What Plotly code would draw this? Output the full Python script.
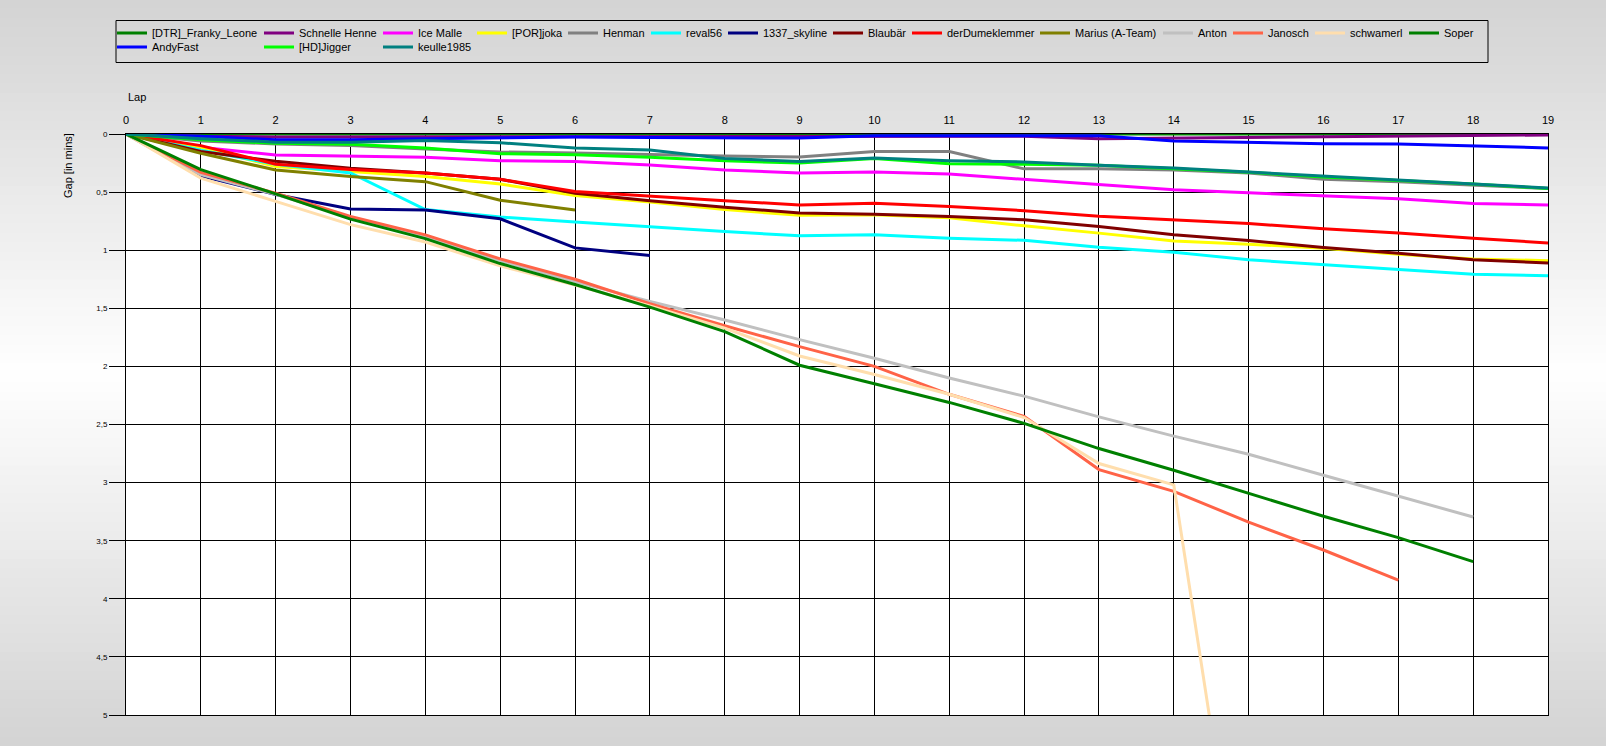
import plotly.graph_objects as go

# ---------------- data ----------------
laps = list(range(20))

franky_leone = [0, 0, 0, 0, 0, 0, 0, 0, 0, 0, 0, 0, 0, 0, 0, 0, 0, 0, 0, 0]
schnelle_henne = [0, 0.02, 0.025, 0.025, 0.025, 0.025, 0.022, 0.022, 0.02, 0.02,
                  0.02, 0.02, 0.02, 0.04, 0.035, 0.03, 0.025, 0.02, 0.015, 0.008]
ice_malle = [0, 0.115, 0.18, 0.19, 0.2, 0.23, 0.236, 0.267, 0.31, 0.336,
             0.328, 0.345, 0.39, 0.43, 0.48, 0.506, 0.534, 0.557, 0.598, 0.61]
por_joka = [0, 0.115, 0.28, 0.32, 0.365, 0.43, 0.53, 0.586, 0.65, 0.7,
            0.695, 0.72, 0.79, 0.853, 0.92, 0.948, 0.983, 1.034, 1.075, 1.09]
henman = [0, 0.06, 0.086, 0.1, 0.13, 0.155, 0.164, 0.178, 0.19, 0.198,
          0.15, 0.15, 0.3, 0.3, 0.31, 0.336, 0.39, 0.41, 0.437, 0.47]
reval56 = [0, 0.14, 0.26, 0.335, 0.65, 0.715, 0.757, 0.8, 0.84, 0.876,
           0.868, 0.897, 0.915, 0.974, 1.017, 1.083, 1.126, 1.164, 1.207, 1.22]
skyline_1337 = [0, 0.36, 0.52, 0.645, 0.655, 0.73, 0.98, 1.046]
blaubaer = [0, 0.15, 0.235, 0.295, 0.335, 0.39, 0.51, 0.575, 0.63, 0.68,
            0.69, 0.71, 0.738, 0.796, 0.868, 0.917, 0.977, 1.026, 1.083, 1.11]
der_dumeklemmer = [0, 0.1, 0.26, 0.305, 0.336, 0.39, 0.494, 0.537, 0.575, 0.61,
                   0.595, 0.624, 0.66, 0.707, 0.74, 0.77, 0.816, 0.853, 0.897, 0.937]
marius = [0, 0.165, 0.31, 0.365, 0.41, 0.57, 0.655]
anton = [0, 0.35, 0.52, 0.72, 0.89, 1.09, 1.27, 1.44, 1.6, 1.77,
         1.93, 2.1, 2.256, 2.434, 2.6, 2.756, 2.937, 3.118, 3.296]
janosch = [0, 0.33, 0.51, 0.71, 0.868, 1.075, 1.25, 1.46, 1.65, 1.83,
           2.0, 2.24, 2.43, 2.888, 3.075, 3.34, 3.58, 3.84]
schwamerl = [0, 0.38, 0.58, 0.78, 0.93, 1.135, 1.3, 1.48, 1.67, 1.91,
             2.07, 2.24, 2.44, 2.836, 3.02, 7.2]
soper = [0, 0.307, 0.515, 0.733, 0.9, 1.115, 1.295, 1.49, 1.7, 1.99,
         2.15, 2.31, 2.49, 2.707, 2.894, 3.09, 3.29, 3.474, 3.68]
andy_fast = [0, 0.02, 0.05, 0.05, 0.04, 0.03, 0.025, 0.03, 0.03, 0.035,
             0.015, 0.015, 0.01, 0.015, 0.06, 0.07, 0.083, 0.086, 0.1, 0.12]
hd_jigger = [0, 0.05, 0.08, 0.088, 0.12, 0.17, 0.178, 0.2, 0.23, 0.25,
             0.21, 0.256, 0.26, 0.27, 0.3, 0.33, 0.37, 0.4, 0.43, 0.47]
keulle1985 = [0, 0.04, 0.07, 0.07, 0.055, 0.075, 0.12, 0.138, 0.21, 0.236,
              0.207, 0.23, 0.24, 0.27, 0.293, 0.328, 0.365, 0.394, 0.43, 0.465]

driver_names = ["[DTR]_Franky_Leone", "Schnelle Henne", "Ice Malle", "[POR]joka", "Henman",
                "reval56", "1337_skyline", "Blaubär", "derDumeklemmer", "Marius (A-Team)",
                "Anton", "Janosch", "schwamerl", "Soper", "AndyFast", "[HD]Jigger", "keulle1985"]
driver_gaps = [franky_leone, schnelle_henne, ice_malle, por_joka, henman, reval56, skyline_1337,
               blaubaer, der_dumeklemmer, marius, anton, janosch, schwamerl, soper,
               andy_fast, hd_jigger, keulle1985]
driver_colors = ["#008000", "#800080", "#ff00ff", "#ffff00", "#808080", "#00ffff", "#000080",
                 "#800000", "#ff0000", "#808000", "#c0c0c0", "#ff6347", "#ffdead", "#008000",
                 "#0000ff", "#00ff00", "#008080"]

x_ticks = list(range(20))
y_ticks = [0, 0.5, 1, 1.5, 2, 2.5, 3, 3.5, 4, 4.5, 5]

# ---------------- layout geometry (pixels) ----------------
W, H = 1606, 746
ML, MR, MT, MB = 126, 58, 134, 31
PW, PH = W - ML - MR, H - MT - MB


def px_x(x):
    return (x - ML) / PW


def px_y(y):
    return (H - MB - y) / PH


# legend entry text positions (left x of text, centre y of row)
legend_text_x = [152, 299, 418, 512, 603, 686, 763, 868, 947, 1075, 1198, 1268, 1350, 1444,
                 152, 299, 418]
legend_row_y = [33] * 14 + [47] * 3

FONT = "Liberation Sans, Arial, sans-serif"

fig = go.Figure()
layout_legends = {}
for i, (name, gaps, col) in enumerate(zip(driver_names, driver_gaps, driver_colors)):
    lg = "legend" if i == 0 else f"legend{i + 1}"
    fig.add_trace(go.Scatter(
        x=laps[:len(gaps)], y=gaps, mode="lines", name=name,
        line=dict(color=col, width=3), legend=lg,
        hovertemplate=name + "<br>Lap %{x}: %{y}<extra></extra>",
    ))
    layout_legends[lg] = dict(
        xref="container", yref="container",
        x=(legend_text_x[i] - 40) / W, y=1 - legend_row_y[i] / H,
        xanchor="left", yanchor="middle",
        bgcolor="rgba(0,0,0,0)", borderwidth=0,
        font=dict(family=FONT, size=11, color="black"),
        itemwidth=30,
    )

# background gradient bands (top grey -> white middle -> grey bottom)
shapes = []
n_bands = 80
for k in range(n_bands):
    y0 = H * k / n_bands
    y1 = H * (k + 1) / n_bands
    yc = (y0 + y1) / 2
    d = abs(yc - H / 2) / (H / 2)
    v = int(round(255 - 44 * d))
    shapes.append(dict(type="rect", xref="paper", yref="paper", layer="below",
                       x0=px_x(0), x1=px_x(W), y0=px_y(y1 + 0.5), y1=px_y(y0 - 0.5),
                       line=dict(width=0), fillcolor=f"rgb({v},{v},{v})"))
# white plot area
shapes.append(dict(type="rect", xref="paper", yref="paper", layer="below",
                   x0=0, x1=1, y0=0, y1=1, line=dict(width=0), fillcolor="white"))
# legend box
shapes.append(dict(type="rect", xref="paper", yref="paper", layer="below",
                   x0=px_x(116), x1=px_x(1488), y0=px_y(62.5), y1=px_y(20.5),
                   line=dict(color="black", width=1), fillcolor="rgba(0,0,0,0)"))

annotations = [
    dict(text="Lap", xref="paper", yref="paper", x=px_x(126), y=px_y(97),
         xanchor="left", yanchor="middle", showarrow=False,
         font=dict(family=FONT, size=11, color="black")),
    dict(text="Gap [in mins]", xref="paper", yref="paper", x=px_x(68), y=px_y(166),
         xanchor="center", yanchor="middle", showarrow=False, textangle=-90,
         font=dict(family=FONT, size=11, color="black")),
]

fig.update_layout(
    width=W, height=H,
    margin=dict(l=ML, r=MR, t=MT, b=MB, autoexpand=False),
    paper_bgcolor="rgb(211,211,211)",
    plot_bgcolor="rgba(0,0,0,0)",
    separators=", ",
    showlegend=True,
    shapes=shapes,
    annotations=annotations,
    font=dict(family=FONT, size=11, color="black"),
    xaxis=dict(
        side="top", range=[0, 19], tickvals=x_ticks, ticktext=[str(t) for t in x_ticks],
        showgrid=True, gridcolor="black", gridwidth=1, zeroline=False,
        showline=True, mirror=True, linecolor="black", linewidth=1,
        ticks="outside", ticklen=5, tickcolor="rgba(0,0,0,0)",
        tickfont=dict(family=FONT, size=11, color="black"),
    ),
    yaxis=dict(
        range=[5, 0], tickvals=y_ticks,
        showgrid=True, gridcolor="black", gridwidth=1, zeroline=False,
        showline=True, mirror=True, linecolor="black", linewidth=1,
        ticks="outside", ticklen=16, tickcolor="black", tickwidth=1,
        tickfont=dict(family=FONT, size=8, color="black"),
    ),
    **layout_legends,
)

fig.write_html(
    "out.html",
    config={"displayModeBar": False},
    post_script="document.body.style.margin='0';document.body.style.overflow='hidden';",
)
